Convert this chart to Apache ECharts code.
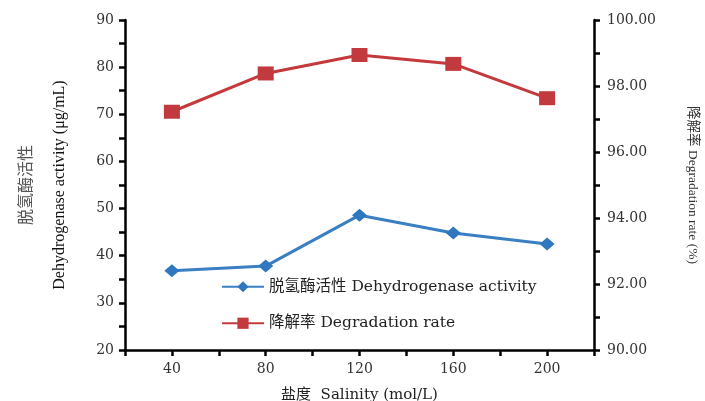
<!DOCTYPE html>
<html>
<head>
<meta charset="utf-8">
<script src="https://cdn.jsdelivr.net/npm/echarts@6/dist/echarts.min.js"></script>
<style>html,body{margin:0;padding:0;background:#fff;}#c{width:705px;height:401px;}</style>
</head>
<body>
<div id="c"></div>
<script>
var salinity = [40, 80, 120, 160, 200];
var dehydrogenase = [36.8, 37.8, 48.6, 44.8, 42.5];
var degradation = [97.22, 98.38, 98.94, 98.67, 97.63];
var seriesNames = ['脱氢酶活性 Dehydrogenase activity', '降解率 Degradation rate'];

var serif = '"Liberation Serif","Noto Sans CJK SC",serif';
var wide = '"DejaVu Serif","Noto Sans CJK SC",serif';
var chart = echarts.init(document.getElementById('c'));
chart.setOption({
  animation: false,
  backgroundColor: '#fff',
  grid: {left: 125, right: 111, top: 20, bottom: 51, outerBoundsMode: 'none', containLabel: false},
  legend: {
    orient: 'vertical', left: 216, top: 274, itemGap: 21,
    itemWidth: 42, itemHeight: 14,
    textStyle: {fontFamily: wide, fontSize: 15.5, color: '#222'},
    data: seriesNames
  },
  xAxis: {
    type: 'value', min: 20, max: 220, interval: 20,
    name: '盐度  Salinity (mol/L)', nameLocation: 'middle', nameGap: 38,
    nameTextStyle: {fontFamily: wide, fontSize: 15, color: '#222'},
    axisLine: {lineStyle: {color: '#000', width: 2.5}},
    axisTick: {length: 6, lineStyle: {color: '#000', width: 2.5}},
    axisLabel: {fontFamily: wide, fontSize: 14, color: '#333', margin: 12,
      formatter: function (v) { return v % 40 === 0 ? v : ''; }},
    splitLine: {show: false}
  },
  yAxis: [{
    type: 'value', min: 20, max: 90, interval: 5, position: 'left',
    name: '{cn|脱氢酶活性}\n{en|Dehydrogenase activity (μg/mL)}',
    nameLocation: 'middle', nameRotate: 90, nameGap: 49,
    nameTextStyle: {fontFamily: serif, lineHeight: 33,
      rich: {cn: {fontFamily: serif, fontSize: 16, color: '#555', lineHeight: 33},
             en: {fontFamily: serif, fontSize: 16, color: '#111', lineHeight: 33}}},
    axisLine: {show: true, lineStyle: {color: '#000', width: 2.5}},
    axisTick: {length: 6, lineStyle: {color: '#000', width: 2.5}},
    axisLabel: {fontFamily: wide, fontSize: 14, color: '#333', margin: 11,
      formatter: function (v) { return v % 10 === 0 ? v : ''; }},
    splitLine: {show: false}
  }, {
    type: 'value', min: 90, max: 100, interval: 1, position: 'right',
    name: '降解率 Degradation rate (%)',
    nameLocation: 'middle', nameRotate: -90, nameGap: 92,
    nameTextStyle: {fontFamily: serif, fontSize: 13.5, color: '#333'},
    axisLine: {show: true, lineStyle: {color: '#000', width: 2.5}},
    axisTick: {length: 6, lineStyle: {color: '#000', width: 2.5}},
    axisLabel: {fontFamily: wide, fontSize: 14, color: '#333', margin: 13,
      formatter: function (v) { return v % 2 === 0 ? v.toFixed(2) : ''; }},
    splitLine: {show: false}
  }],
  series: [{
    name: seriesNames[0], type: 'line', yAxisIndex: 0,
    data: salinity.map(function (x, i) { return [x, dehydrogenase[i]]; }),
    symbol: 'diamond', symbolSize: [15, 13],
    lineStyle: {color: '#3a7fc2', width: 3},
    itemStyle: {color: '#2f78bf'}
  }, {
    name: seriesNames[1], type: 'line', yAxisIndex: 1,
    data: salinity.map(function (x, i) { return [x, degradation[i]]; }),
    symbol: 'rect', symbolSize: [16, 14],
    lineStyle: {color: '#c4393c', width: 3},
    itemStyle: {color: '#c23a3d'}
  }]
});
</script>
</body>
</html>
